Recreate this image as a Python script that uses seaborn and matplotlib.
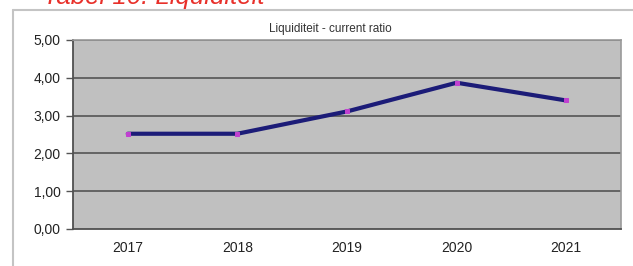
import matplotlib
matplotlib.use("Agg")
from matplotlib import pyplot as plt
from matplotlib.lines import Line2D
from matplotlib.ticker import FuncFormatter
import pandas as pd
import seaborn as sns

years = ['2017', '2018', '2019', '2020', '2021']
current_ratio = [2.52, 2.52, 3.11, 3.87, 3.40]
y_ticks = [0, 1, 2, 3, 4, 5]

df = pd.DataFrame({'Jaar': years, 'Current ratio': current_ratio})

sns.set_style('white')
plt.rcParams['font.family'] = ['Liberation Sans', 'DejaVu Sans']

fig = plt.figure(figsize=(6.33, 2.66), dpi=100)
W, H = 633, 266
ax = fig.add_axes([73 / W, 1 - 229 / H, (621 - 73) / W, (229 - 40) / H])
ax.set_facecolor('#c0c0c0')

ax.grid(False)
for yv in y_ticks[1:]:
    ax.axhline(yv, color='#646464', lw=1.4, zorder=1)

sns.lineplot(data=df, x='Jaar', y='Current ratio', ax=ax, color='#1c1c78',
             lw=3.0, marker='s', markersize=3.5, markerfacecolor='#c040d0',
             markeredgecolor='#c040d0', zorder=3, sort=False)

ax.set_xlim(-0.5, 4.5)
ax.set_ylim(0, 5)
ax.set_yticks(y_ticks)
ax.yaxis.set_major_formatter(FuncFormatter(lambda v, p: f'{v:.2f}'.replace('.', ',')))
ax.set_xticks(range(len(years)))
ax.set_xticklabels(years)
ax.set_xticks([i - 0.5 for i in range(len(years) + 1)], minor=True)
ax.tick_params(axis='x', which='major', length=0, labelsize=10, pad=9, colors='#222222')
ax.tick_params(axis='x', which='minor', length=4, width=1, color='#555555', direction='out')
ax.tick_params(axis='y', length=5, width=1, color='#555555', labelsize=10, pad=4,
               colors='#222222', left=True)
ax.tick_params(axis='y', which='major', color='#555555')
ax.set_xlabel('')
ax.set_ylabel('')

for side in ['left', 'bottom']:
    ax.spines[side].set_color('#505050')
    ax.spines[side].set_linewidth(1.3)
for side in ['top', 'right']:
    ax.spines[side].set_color('#9a9a9a')
    ax.spines[side].set_linewidth(1.2)

fig.text(330 / W, 1 - 29 / H, 'Liquiditeit - current ratio', ha='center',
         va='center', fontsize=8.5, color='#333333')

# outer chart frame, cut by the image edge
fig.add_artist(Line2D([13 / W, 1.0], [1 - 10 / H, 1 - 10 / H],
                      transform=fig.transFigure, color='#c4c4c4', lw=1.5))
fig.add_artist(Line2D([13 / W, 13 / W], [0.0, 1 - 10 / H],
                      transform=fig.transFigure, color='#c4c4c4', lw=1.5))

# caption above the chart, mostly cut off at the top
fig.text(43 / W, 1 - 4 / H, 'Tabel 10: Liquiditeit', ha='left', va='baseline',
         fontsize=18.5, style='italic', color='#e8302a')

fig.savefig('out.png', dpi=100)
